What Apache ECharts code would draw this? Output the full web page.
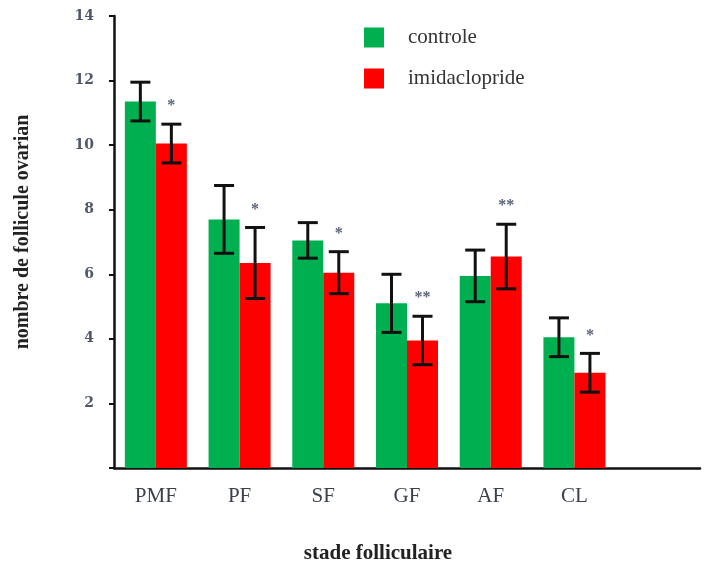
<!DOCTYPE html>
<html>
<head>
<meta charset="utf-8">
<script src="https://cdn.jsdelivr.net/npm/echarts@6/dist/echarts.min.js"></script>
<style>html,body{margin:0;padding:0;background:#fff}#c{width:715px;height:563px}</style>
</head>
<body>
<div id="c"></div>
<script>
const categories = ['PMF', 'PF', 'SF', 'GF', 'AF', 'CL', ''];
const controle = [11.35, 7.7, 7.05, 5.1, 5.95, 4.05];
const controleErr = [0.6, 1.05, 0.55, 0.9, 0.8, 0.6];
const imida = [10.05, 6.35, 6.05, 3.95, 6.55, 2.95];
const imidaErr = [0.6, 1.1, 0.65, 0.75, 1.0, 0.6];
const stars = ['*', '*', '*', '**', '**', '*'];
const yTicks = { min: 0, max: 14, interval: 2 };

const BW = 31;
const chart = echarts.init(document.getElementById('c'));

function errSeries(vals, errs, side, withStars) {
  return {
    type: 'custom',
    z: 10,
    data: vals.map((v, i) => [i, v, errs[i]]),
    renderItem: function (params, api) {
      const i = api.value(0), v = api.value(1), e = api.value(2);
      const top = api.coord([i, v + e]);
      const bot = api.coord([i, v - e]);
      const x = top[0] + side * BW / 2;
      const cap = 10;
      const style = { stroke: '#111', lineWidth: 3 };
      const children = [
        { type: 'line', shape: { x1: x, y1: top[1], x2: x, y2: bot[1] }, style },
        { type: 'line', shape: { x1: x - cap, y1: top[1], x2: x + cap, y2: top[1] }, style },
        { type: 'line', shape: { x1: x - cap, y1: bot[1], x2: x + cap, y2: bot[1] }, style }
      ];
      if (withStars) {
        children.push({
          type: 'text',
          style: {
            x: x, y: top[1] - 18, text: stars[params.dataIndex],
            fill: '#5a6478', font: 'bold 16px "Liberation Serif"', align: 'center', verticalAlign: 'middle'
          }
        });
      }
      return { type: 'group', children };
    }
  };
}

chart.setOption({
  animation: false,
  grid: { left: 114, right: 15, top: 16, bottom: 95, outerBoundsMode: 'none', containLabel: false },
  legend: {
    orient: 'vertical', left: 359, top: 22, itemWidth: 20, itemHeight: 20, itemGap: 20,
    icon: 'rect',
    data: ['controle', 'imidaclopride'],
    textStyle: { fontFamily: 'Liberation Serif', fontSize: 21, color: '#333', padding: [0, 0, 0, 19] }
  },
  xAxis: {
    type: 'category', data: categories,
    name: 'stade folliculaire', nameLocation: 'middle', nameGap: 75,
    nameTextStyle: { fontFamily: 'Liberation Serif', fontWeight: 'bold', fontSize: 21, color: '#222', padding: [0, 58, 0, 0] },
    axisLine: { lineStyle: { color: '#111', width: 2.5 } },
    axisTick: { alignWithLabel: true, length: 10, lineStyle: { color: '#111', width: 2.5 } },
    axisLabel: { fontFamily: 'Liberation Serif', fontSize: 21, color: '#3a3f4a', margin: 18 }
  },
  yAxis: {
    type: 'value', min: yTicks.min, max: yTicks.max, interval: yTicks.interval,
    name: 'nombre de follicule ovarian', nameLocation: 'middle', nameGap: 81,
    nameTextStyle: { fontFamily: 'Liberation Serif', fontWeight: 'bold', fontSize: 20, color: '#222', padding: [0, 0, 0, 20] },
    splitLine: { show: false },
    axisLine: { show: true, lineStyle: { color: '#111', width: 2.5 } },
    axisTick: { show: true, length: 5, lineStyle: { color: '#111', width: 2 } },
    axisLabel: {
      fontFamily: 'DejaVu Serif', fontWeight: 'bold', fontSize: 14, color: '#505868', margin: 20,
      formatter: v => (v === 0 ? '' : String(v))
    }
  },
  series: [
    { name: 'controle', type: 'bar', data: controle, barWidth: BW, barGap: '0%', itemStyle: { color: '#00b050' } },
    { name: 'imidaclopride', type: 'bar', data: imida, barWidth: BW, barGap: '0%', itemStyle: { color: '#ff0000' } },
    errSeries(controle, controleErr, -1, false),
    errSeries(imida, imidaErr, 1, true)
  ]
});
</script>
</body>
</html>
